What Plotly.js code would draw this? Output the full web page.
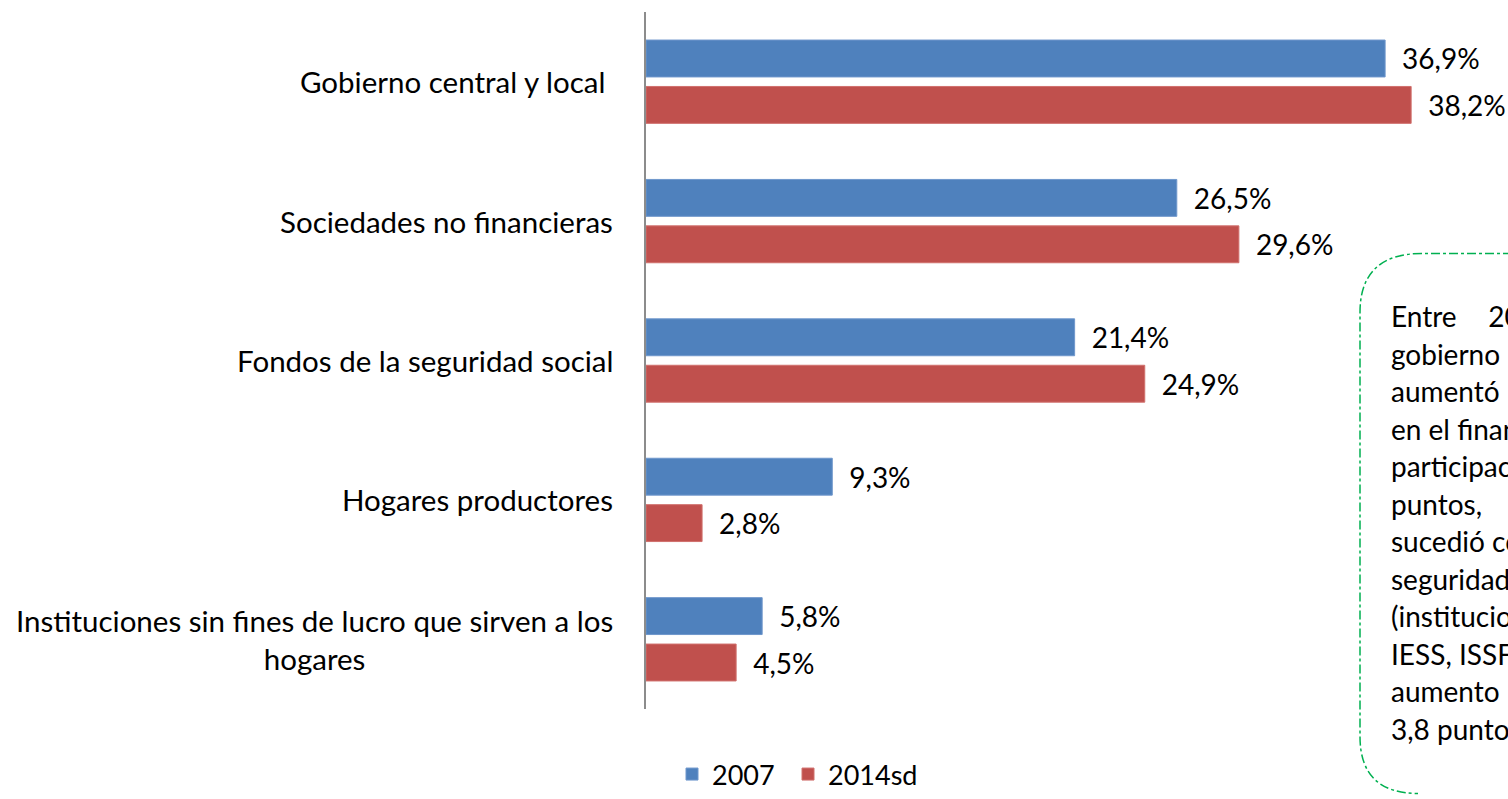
<!DOCTYPE html>
<html>
<head>
<meta charset="utf-8">
<script src="https://cdn.plot.ly/plotly-3.0.1.min.js"></script>
<style>html,body{margin:0;padding:0;background:#fff;}#chart{width:1508px;height:799px;}</style>
</head>
<body>
<div id="chart"></div>
<script>
// ---- data ----
var categories = [
  "Gobierno central y local",
  "Sociedades no financieras",
  "Fondos de la seguridad social",
  "Hogares productores",
  "Instituciones sin fines de lucro que sirven a los hogares"
];
var categoryLabels = [
  "Gobierno central y local\u00a0",
  "Sociedades no financieras",
  "Fondos de la seguridad social",
  "Hogares productores",
  "Instituciones sin fines de lucro que sirven a los<br>hogares"
];
var values2007 = [36.9, 26.5, 21.4, 9.3, 5.8];
var values2014 = [38.2, 29.6, 24.9, 2.8, 4.5];
var seriesNames = ["2007", "2014sd"];
var noteLines = [
  "Entre\u2002\u2002\u20092007",
  "gobierno",
  "aumentó",
  "en el financiamiento",
  "participación",
  "puntos,",
  "sucedió con",
  "seguridad",
  "(instituciones",
  "IESS, ISSFA",
  "aumento",
  "3,8 puntos"
];

// ---- layout geometry ----
var W = 1508, H = 799;
var mL = 646, mR = 0, mT = 12, mB = 77;
var pw = W - mL - mR, ph = H - mT - mB;
function PX(px){ return (px - mL) / pw; }
function PY(py){ return 1 - (py - mT) / ph; }

var FONT = "Lato, 'Open Sans', sans-serif";

var traces = [
  {
    type: "bar", orientation: "h", name: seriesNames[0], legend: "legend",
    y: categories, x: values2007,
    marker: {color: "#4F81BD", line: {color: "#6F97CC", width: 1}},
    text: values2007, texttemplate: "\u2002%{x:.1f}%", textposition: "outside",
    textfont: {family: FONT, size: 28, color: "#000"},
    constraintext: "none", cliponaxis: false, hoverinfo: "x+y"
  },
  {
    type: "bar", orientation: "h", name: seriesNames[1], legend: "legend2",
    y: categories, x: values2014,
    marker: {color: "#C0504D", line: {color: "#D0706D", width: 1}},
    text: values2014, texttemplate: "\u2002%{x:.1f}%", textposition: "outside",
    textfont: {family: FONT, size: 28, color: "#000"},
    constraintext: "none", cliponaxis: false, hoverinfo: "x+y"
  }
];

var annotations = [];
for (var i = 0; i < categories.length; i++) {
  annotations.push({
    xref: "x", yref: "y", x: 0, y: categories[i],
    text: categoryLabels[i], showarrow: false,
    xanchor: "right", yanchor: "middle", xshift: -31, align: "center",
    font: {family: FONT, size: 29.5, color: "#000"}
  });
}
var lineStart = 322, lineStep = 38.2;
for (var j = 0; j < noteLines.length; j++) {
  annotations.push({
    xref: "paper", yref: "paper", x: PX(1389), y: PY(lineStart + j * lineStep),
    text: noteLines[j], showarrow: false, xanchor: "left", yanchor: "middle", align: "left",
    font: {family: FONT, size: 28, color: "#000"}
  });
}

var boxPath = "M " + PX(1530) + " " + PY(258) +
  " L " + PX(1422) + " " + PY(258) +
  " Q " + PX(1360) + " " + PY(258) + " " + PX(1360) + " " + PY(318) +
  " L " + PX(1360) + " " + PY(750) +
  " Q " + PX(1360) + " " + PY(808) + " " + PX(1418) + " " + PY(808);

var legendBase = {
  orientation: "h", traceorder: "normal",
  xanchor: "left", y: PY(789), yanchor: "middle",
  font: {family: FONT, size: 27, color: "#000"},
  bgcolor: "rgba(0,0,0,0)", borderwidth: 0
};

var layout = {
  width: W, height: H,
  margin: {l: mL, r: mR, t: mT, b: mB, pad: 0},
  paper_bgcolor: "#fff", plot_bgcolor: "#fff",
  separators: ",.",
  font: {family: FONT, size: 27, color: "#000"},
  barmode: "group", bargap: 0.334, bargroupgap: 0.205,
  showlegend: true,
  legend: Object.assign({}, legendBase, {x: PX(672)}),
  legend2: Object.assign({}, legendBase, {x: PX(788)}),
  xaxis: {
    range: [0, pw / 20.03], showgrid: false, zeroline: false, showline: false,
    showticklabels: false, ticks: "", fixedrange: true
  },
  yaxis: {
    type: "category", range: [4.5, -0.5], showgrid: false, zeroline: false,
    showline: true, linecolor: "#8C8C8C", linewidth: 2,
    showticklabels: false, ticks: "", fixedrange: true
  },
  annotations: annotations,
  shapes: [{
    type: "path", xref: "paper", yref: "paper", path: boxPath,
    line: {color: "#00B050", width: 1.5, dash: "dashdot"}, fillcolor: "rgba(0,0,0,0)"
  }]
};

Plotly.newPlot("chart", traces, layout, {displayModeBar: false, staticPlot: true});
</script>
</body>
</html>
